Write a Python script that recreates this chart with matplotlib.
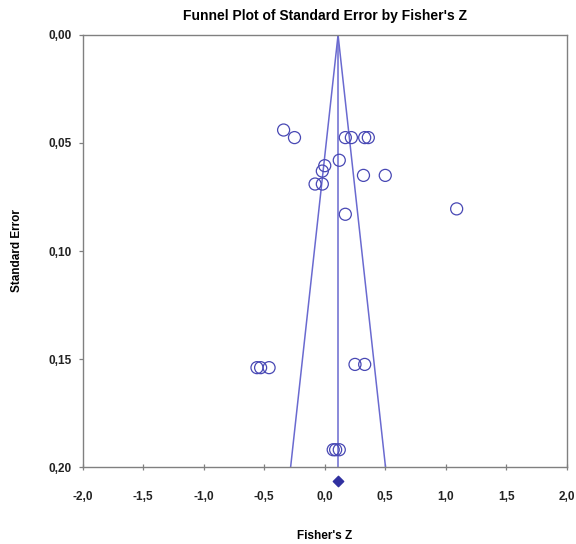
import matplotlib.pyplot as plt
import numpy as np
from matplotlib.ticker import FuncFormatter

plt.rcParams['font.family'] = ['Liberation Sans', 'DejaVu Sans']

# study effects
fisher_z = [-0.34, -0.25, 0.17, 0.22, 0.33, 0.36, 0.00, -0.02, 0.12, -0.08, -0.02,
            0.32, 0.50, 1.09, 0.17, -0.56, -0.53, -0.46, 0.25, 0.33, 0.07, 0.09, 0.12]
std_err = [0.044, 0.0475, 0.0475, 0.0475, 0.0475, 0.0475, 0.0605, 0.063, 0.058, 0.069, 0.069,
           0.065, 0.065, 0.0805, 0.083, 0.154, 0.154, 0.154, 0.1525, 0.1525, 0.192, 0.192, 0.192]
mean_z = 0.11
se_max = 0.20

x_ticks = [-2.0, -1.5, -1.0, -0.5, 0.0, 0.5, 1.0, 1.5, 2.0]
y_ticks = [0.00, 0.05, 0.10, 0.15, 0.20]

point_col = '#4848b4'
line_col = '#6a6ad0'


def comma_fmt(decimals):
    return FuncFormatter(lambda v, pos: f"{v:.{decimals}f}".replace('.', ','))


fig = plt.figure(figsize=(5.76, 5.44), dpi=100)
ax = fig.add_axes([0.1436, 0.1415, 0.8404, 0.7942])

# funnel
ax.plot([mean_z - 1.96 * se_max, mean_z, mean_z + 1.96 * se_max], [se_max, 0, se_max],
        color=line_col, lw=1.1, zorder=2)
ax.plot([mean_z, mean_z], [0, se_max], color=line_col, lw=1.1, zorder=2)

ax.scatter(fisher_z, std_err, s=75, facecolors='none', edgecolors=point_col,
           linewidths=0.9, zorder=3)

# summary diamond under the axis
ax.scatter([mean_z], [se_max + 0.0065], marker='D', s=28, color='#3030a0',
           clip_on=False, zorder=4)

ax.set_xlim(-2.0, 2.0)
ax.set_ylim(0.20, 0.00)
ax.set_xticks(x_ticks)
ax.set_yticks(y_ticks)
ax.xaxis.set_major_formatter(comma_fmt(1))
ax.yaxis.set_major_formatter(comma_fmt(2))

for s in ax.spines.values():
    s.set_color('#808080')
    s.set_linewidth(1.0)

ax.tick_params(axis='x', direction='inout', length=5, width=0.9, color='#808080',
               pad=15, labelsize=8.5, labelcolor='#222222')
ax.tick_params(axis='y', direction='out', length=3, width=0.9, color='#808080',
               pad=5, labelsize=8.5, labelcolor='#222222')
for lab in ax.get_xticklabels() + ax.get_yticklabels():
    lab.set_fontweight('bold')

ax.set_title("Funnel Plot of Standard Error by Fisher's Z", fontsize=10,
             fontweight='bold', pad=11)
ax.set_xlabel("Fisher's Z", fontsize=8.5, fontweight='bold', labelpad=19)
ax.set_ylabel("Standard Error", fontsize=8.5, fontweight='bold', labelpad=18)

fig.savefig('out.png', dpi=100)
